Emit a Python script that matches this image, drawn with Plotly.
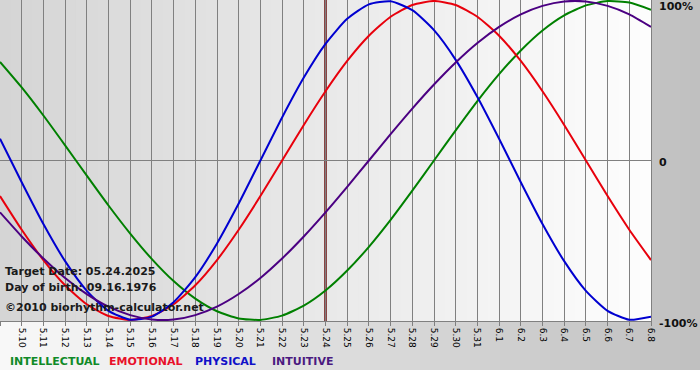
import plotly.graph_objects as go

# ---- data ----
day_labels = ["5.9", "5.10", "5.11", "5.12", "5.13", "5.14", "5.15", "5.16", "5.17", "5.18",
              "5.19", "5.20", "5.21", "5.22", "5.23", "5.24", "5.25", "5.26", "5.27", "5.28",
              "5.29", "5.30", "5.31", "6.1", "6.2", "6.3", "6.4", "6.5", "6.6", "6.7", "6.8"]
target_label = "5.24"

intellectual = [0.618, 0.458, 0.282, 0.095, -0.095, -0.282, -0.458, -0.618, -0.756, -0.866,
                -0.945, -0.990, -0.999, -0.972, -0.910, -0.815, -0.690, -0.541, -0.372, -0.189,
                0.0, 0.189, 0.372, 0.541, 0.690, 0.815, 0.910, 0.972, 0.999, 0.990, 0.945]
emotional = [-0.223, -0.434, -0.624, -0.782, -0.901, -0.975, -1.0, -0.975, -0.901, -0.782,
             -0.624, -0.434, -0.223, 0.0, 0.223, 0.434, 0.624, 0.782, 0.901, 0.975,
             1.0, 0.975, 0.901, 0.782, 0.624, 0.434, 0.223, 0.0, -0.223, -0.434, -0.624]
physical = [0.136, -0.136, -0.398, -0.631, -0.817, -0.942, -0.998, -0.979, -0.888, -0.731,
            -0.520, -0.270, 0.0, 0.270, 0.520, 0.731, 0.888, 0.979, 0.998, 0.942,
            0.817, 0.631, 0.398, 0.136, -0.136, -0.398, -0.631, -0.817, -0.942, -0.998, -0.979]
intuitive = [-0.325, -0.476, -0.614, -0.736, -0.837, -0.916, -0.969, -0.997, -0.997, -0.969,
             -0.916, -0.837, -0.736, -0.614, -0.476, -0.325, -0.165, 0.0, 0.165, 0.325,
             0.476, 0.614, 0.736, 0.837, 0.916, 0.969, 0.997, 0.997, 0.969, 0.916, 0.837]

series_names = ["INTELLECTUAL", "EMOTIONAL", "PHYSICAL", "INTUITIVE"]
series_colors = ["#008000", "#e8000c", "#0000d0", "#4b0082"]
legend_colors = ["#108a28", "#e8102a", "#1010c8", "#4b1a80"]
series_values = [intellectual, emotional, physical, intuitive]

info_lines = ["Target Date: 05.24.2025", "Day of birth: 09.16.1976", "\u00a92010 biorhythm-calculator.net"]
right_labels = ["100%", "0", "-100%"]
right_values = [1, 0, -1]

# ---- figure ----
W, H = 700, 380
L, R, T, B = 0, 49, 0, 59
pw, ph = W - L - R, H - T - B
x_idx = list(range(len(day_labels)))
FONT = "DejaVu Sans"

fig = go.Figure()
for name, col, vals in zip(series_names, series_colors, series_values):
    fig.add_trace(go.Scatter(x=x_idx, y=vals, mode="lines", name=name,
                             line=dict(color=col, width=2, shape="spline", smoothing=0.6),
                             hoverinfo="skip", showlegend=False))

shapes = []
# paper background gradient (light left -> grey right), down to y=370 px
n = 70
ybot = (ph - 370) / ph
for i in range(n):
    t = i / (n - 1)
    c = int(round(0xf8 + (0xc0 - 0xf8) * t))
    shapes.append(dict(type="rect", xref="paper", yref="paper",
                       x0=(i / n) * W / pw, x1=((i + 1) / n) * W / pw + 0.002,
                       y0=ybot, y1=1, fillcolor=f"rgb({c},{c},{c})",
                       line=dict(width=0), layer="below"))
# plot area gradient (grey left -> white right)
m = 60
last = len(day_labels) - 1
for i in range(m):
    t = i / (m - 1)
    c = int(round(0xd5 + (0xfd - 0xd5) * t))
    shapes.append(dict(type="rect", xref="x", yref="paper",
                       x0=last * i / m, x1=last * (i + 1) / m + 0.05,
                       y0=0, y1=1, fillcolor=f"rgb({c},{c},{c})",
                       line=dict(width=0), layer="below"))
# target date line
ti = day_labels.index(target_label)
shapes.append(dict(type="line", xref="x", yref="paper", x0=ti, x1=ti, y0=0, y1=1,
                   line=dict(color="#6a0c0c", width=2.5), layer="between"))

annotations = []
info_y = [271, 287, 307]
for txt, yp in zip(info_lines, info_y):
    annotations.append(dict(text=f"<b>{txt}</b>", xref="paper", yref="paper",
                            x=3 / pw, y=(ph - yp) / ph, xanchor="left", yanchor="middle",
                            showarrow=False, font=dict(family=FONT, size=11, color="#1a1a1a")))
for txt, v, ys in zip(right_labels, right_values, [-6, -2, -3]):
    annotations.append(dict(text=f"<b>{txt}</b>", xref="paper", yref="y",
                            x=(657 - L) / pw, y=v, yshift=ys, xanchor="left", yanchor="middle",
                            showarrow=False, font=dict(family=FONT, size=11, color="#111111")))
leg_x = [8, 107, 193, 270]
for txt, col, xp in zip(series_names, legend_colors, leg_x):
    annotations.append(dict(text=f"<b>{txt}</b>", xref="paper", yref="paper",
                            x=xp / pw, y=(ph - 362) / ph, xanchor="left", yanchor="middle",
                            showarrow=False, font=dict(family=FONT, size=11, color=col)))

fig.update_layout(
    width=W, height=H, margin=dict(l=L, r=R, t=T, b=B, pad=0, autoexpand=False),
    paper_bgcolor="white", plot_bgcolor="rgba(0,0,0,0)",
    shapes=shapes, annotations=annotations, showlegend=False,
    xaxis=dict(range=[0, last], tickmode="array", tickvals=x_idx, ticktext=day_labels,
               tickangle=90, ticks="outside", ticklen=4, tickcolor="#808080",
               tickfont=dict(family=FONT, size=9, color="#000000"),
               showgrid=True, gridcolor="#808080", gridwidth=1,
               showline=True, linecolor="#808080", linewidth=1, mirror=True,
               zeroline=False, fixedrange=True, automargin=False),
    yaxis=dict(range=[-1.006, 1.006], showticklabels=False, ticks="",
               showgrid=False, zeroline=True, zerolinecolor="#808080", zerolinewidth=1,
               showline=True, linecolor="#808080", linewidth=1, mirror=True,
               fixedrange=True, automargin=False),
)

fig.write_html("out.html", config={"displayModeBar": False},
               post_script="document.body.style.margin='0';document.body.style.overflow='hidden';")
